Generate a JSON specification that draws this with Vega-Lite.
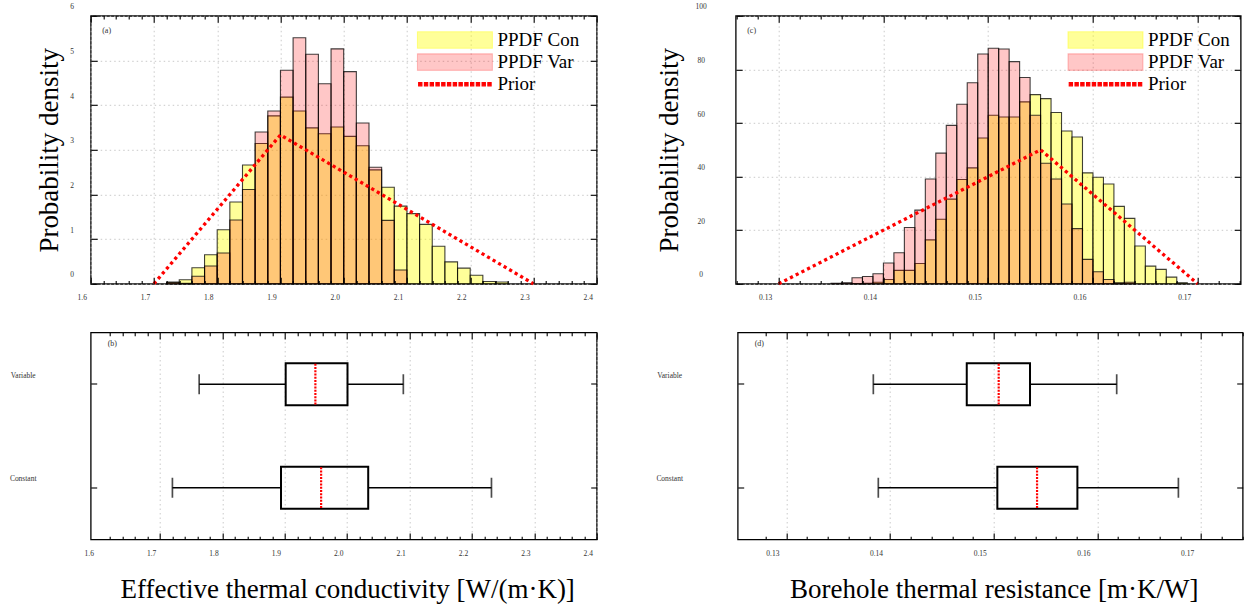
{
  "$schema": "https://vega.github.io/schema/vega-lite/v6.json",
  "background": "white",
  "padding": {"left": 8.7, "top": 1.8, "right": 5, "bottom": 5},
  "config": {
    "font": "Liberation Serif",
    "view": {"stroke": "black", "strokeWidth": 1.3},
    "axis": {
      "domain": false,
      "labelFont": "Liberation Serif",
      "labelFontSize": 7.5,
      "labelColor": "#333",
      "titleFont": "Liberation Serif",
      "titleFontSize": 27,
      "titleFontWeight": "normal",
      "titleColor": "black",
      "gridColor": "#c4c4c4",
      "gridDash": [1.5, 3],
      "gridWidth": 0.9,
      "tickColor": "black",
      "tickWidth": 1.1,
      "labelOverlap": false,
      "labelFlush": false
    },
    "title": {"font": "Liberation Serif", "fontSize": 8, "fontWeight": "normal", "anchor": "start", "frame": "group", "color": "#333", "offset": 0},
    "tick": {"thickness": 1.7}
  },
  "spacing": 24.7,
  "vconcat": [
    {
      "spacing": 56,
      "resolve": {"scale": {"color": "independent"}},
      "hconcat": [
        {
          "width": 506,
          "height": 268,
          "title": {"text": "(a)", "dx": 11.5, "dy": 36.5},
          "resolve": {"axis": {"x": "independent", "y": "independent"}},
          "layer": [
            {
              "data": {"values": [
                {"lo": 1.72, "hi": 1.74, "series": "PPDF Con", "density": 0.04},
                {"lo": 1.74, "hi": 1.76, "series": "PPDF Con", "density": 0.09},
                {"lo": 1.76, "hi": 1.78, "series": "PPDF Con", "density": 0.36},
                {"lo": 1.78, "hi": 1.8, "series": "PPDF Con", "density": 0.65},
                {"lo": 1.8, "hi": 1.82, "series": "PPDF Con", "density": 1.21},
                {"lo": 1.82, "hi": 1.84, "series": "PPDF Con", "density": 1.83},
                {"lo": 1.84, "hi": 1.86, "series": "PPDF Con", "density": 2.66},
                {"lo": 1.86, "hi": 1.88, "series": "PPDF Con", "density": 3.14},
                {"lo": 1.88, "hi": 1.9, "series": "PPDF Con", "density": 3.76},
                {"lo": 1.9, "hi": 1.92, "series": "PPDF Con", "density": 4.18},
                {"lo": 1.92, "hi": 1.94, "series": "PPDF Con", "density": 3.87},
                {"lo": 1.94, "hi": 1.96, "series": "PPDF Con", "density": 3.49},
                {"lo": 1.96, "hi": 1.98, "series": "PPDF Con", "density": 3.36},
                {"lo": 1.98, "hi": 2.0, "series": "PPDF Con", "density": 3.51},
                {"lo": 2.0, "hi": 2.02, "series": "PPDF Con", "density": 3.3},
                {"lo": 2.02, "hi": 2.04, "series": "PPDF Con", "density": 3.09},
                {"lo": 2.04, "hi": 2.06, "series": "PPDF Con", "density": 2.55},
                {"lo": 2.06, "hi": 2.08, "series": "PPDF Con", "density": 2.16},
                {"lo": 2.08, "hi": 2.1, "series": "PPDF Con", "density": 1.74},
                {"lo": 2.1, "hi": 2.12, "series": "PPDF Con", "density": 1.57},
                {"lo": 2.12, "hi": 2.14, "series": "PPDF Con", "density": 1.33},
                {"lo": 2.14, "hi": 2.16, "series": "PPDF Con", "density": 0.84},
                {"lo": 2.16, "hi": 2.18, "series": "PPDF Con", "density": 0.49},
                {"lo": 2.18, "hi": 2.2, "series": "PPDF Con", "density": 0.35},
                {"lo": 2.2, "hi": 2.22, "series": "PPDF Con", "density": 0.19},
                {"lo": 2.22, "hi": 2.24, "series": "PPDF Con", "density": 0.05},
                {"lo": 2.24, "hi": 2.26, "series": "PPDF Con", "density": 0.04},
                {"lo": 1.72, "hi": 1.74, "series": "PPDF Var", "density": 0.03},
                {"lo": 1.74, "hi": 1.76, "series": "PPDF Var", "density": 0.01},
                {"lo": 1.76, "hi": 1.78, "series": "PPDF Var", "density": 0.17},
                {"lo": 1.78, "hi": 1.8, "series": "PPDF Var", "density": 0.4},
                {"lo": 1.8, "hi": 1.82, "series": "PPDF Var", "density": 0.69},
                {"lo": 1.82, "hi": 1.84, "series": "PPDF Var", "density": 1.43},
                {"lo": 1.84, "hi": 1.86, "series": "PPDF Var", "density": 2.11},
                {"lo": 1.86, "hi": 1.88, "series": "PPDF Var", "density": 3.4},
                {"lo": 1.88, "hi": 1.9, "series": "PPDF Var", "density": 3.87},
                {"lo": 1.9, "hi": 1.92, "series": "PPDF Var", "density": 4.78},
                {"lo": 1.92, "hi": 1.94, "series": "PPDF Var", "density": 5.51},
                {"lo": 1.94, "hi": 1.96, "series": "PPDF Var", "density": 5.14},
                {"lo": 1.96, "hi": 1.98, "series": "PPDF Var", "density": 4.48},
                {"lo": 1.98, "hi": 2.0, "series": "PPDF Var", "density": 5.26},
                {"lo": 2.0, "hi": 2.02, "series": "PPDF Var", "density": 4.75},
                {"lo": 2.02, "hi": 2.04, "series": "PPDF Var", "density": 3.6},
                {"lo": 2.04, "hi": 2.06, "series": "PPDF Var", "density": 2.61},
                {"lo": 2.06, "hi": 2.08, "series": "PPDF Var", "density": 1.42},
                {"lo": 2.08, "hi": 2.1, "series": "PPDF Var", "density": 0.31}
              ]},
              "mark": {"type": "bar", "stroke": "black", "strokeWidth": 1.1, "strokeOpacity": 0.75},
              "encoding": {
                "x": {"field": "lo", "type": "quantitative", "scale": {"domain": [1.6, 2.4], "nice": false, "zero": false},
                  "axis": {"orient": "bottom", "title": null, "grid": false, "zindex": 1,
                    "values": [1.6,1.62,1.64,1.66,1.68,1.7,1.72,1.74,1.76,1.78,1.8,1.82,1.84,1.86,1.88,1.9,1.92,1.94,1.96,1.98,2,2.02,2.04,2.06,2.08,2.1,2.12,2.14,2.16,2.18,2.2,2.22,2.24,2.26,2.28,2.3,2.32,2.34,2.36,2.38,2.4],
                    "tickSize": {"condition": {"test": "abs(datum.value*10-round(datum.value*10))<0.001", "value": -6.5}, "value": -3.3},
                    "labelExpr": "abs(datum.value*10-round(datum.value*10))<0.001 ? format(datum.value,'.1f') : ''",
                    "labelPadding": 20.2, "labelOffset": -9, "labelBaseline": "middle", "labelAlign": "center"}},
                "x2": {"field": "hi"},
                "y": {"field": "density", "type": "quantitative", "stack": null, "scale": {"domain": [0, 6], "nice": false},
                  "axis": {"orient": "left", "title": "Probability density", "titleX": -27.3, "values": [0,1,2,3,4,5,6], "grid": false, "zindex": 1,
                    "tickSize": -6.5, "labelPadding": 25.5, "labelAlign": "center", "labelBaseline": "middle", "labelOffset": -9}},
                "y2": {"datum": 0},
                "color": {"field": "series", "type": "nominal",
                  "scale": {"domain": ["PPDF Con", "PPDF Var", "Prior"], "range": ["rgba(255,255,0,0.4)", "rgba(255,0,0,0.22)", "#ff0000"]},
                  "legend": {"orient": "none", "legendX": 325.7, "legendY": 15.2, "title": null, "padding": 0,
                    "symbolType": "M-1,-0.22L1,-0.22L1,0.22L-1,0.22Z", "symbolSize": 5625, "symbolStrokeWidth": 1.1,
                    "clipHeight": 18, "rowPadding": 3.1, "labelOffset": 4,
                    "labelFont": "Liberation Serif", "labelFontSize": 19, "labelColor": "black",
                    "encoding": {"symbols": {
                      "shape": {"condition": {"test": "datum.value === 'Prior'", "value": "M-0.9671,-0.044h0.088v0.088h-0.088Z M-0.8133,-0.044h0.088v0.088h-0.088Z M-0.6595,-0.044h0.088v0.088h-0.088Z M-0.5057,-0.044h0.088v0.088h-0.088Z M-0.3519,-0.044h0.088v0.088h-0.088Z M-0.1981,-0.044h0.088v0.088h-0.088Z M-0.0443,-0.044h0.088v0.088h-0.088Z M0.1095,-0.044h0.088v0.088h-0.088Z M0.2633,-0.044h0.088v0.088h-0.088Z M0.4171,-0.044h0.088v0.088h-0.088Z M0.5709,-0.044h0.088v0.088h-0.088Z M0.7247,-0.044h0.088v0.088h-0.088Z M0.8785,-0.044h0.088v0.088h-0.088Z"}, "value": "M-1,-0.22L1,-0.22L1,0.22L-1,0.22Z"},
                      "fill": {"condition": [{"test": "datum.value === 'PPDF Con'", "value": "rgba(255,255,0,0.4)"}, {"test": "datum.value === 'PPDF Var'", "value": "rgba(255,0,0,0.22)"}], "value": "#ff0000"},
                      "stroke": {"condition": {"test": "datum.value === 'Prior'", "value": "transparent"}, "value": "#333"},
                      "strokeOpacity": {"value": 1},
                      "opacity": {"value": 1}
                    }}}}
              }
            },
            {
              "data": {"values": [
                {"x": 1.7, "y": 0, "series": "Prior"},
                {"x": 1.9, "y": 3.333, "series": "Prior"},
                {"x": 2.3, "y": 0, "series": "Prior"}
              ]},
              "mark": {"type": "line", "strokeDash": [3.2, 3.2], "strokeWidth": 3.3, "strokeCap": "butt"},
              "encoding": {
                "x": {"field": "x", "type": "quantitative", "scale": {"domain": [1.6, 2.4], "nice": false, "zero": false},
                  "axis": {"orient": "top", "title": null, "labels": false, "grid": true, "zindex": 0,
                    "values": [1.6,1.62,1.64,1.66,1.68,1.7,1.72,1.74,1.76,1.78,1.8,1.82,1.84,1.86,1.88,1.9,1.92,1.94,1.96,1.98,2,2.02,2.04,2.06,2.08,2.1,2.12,2.14,2.16,2.18,2.2,2.22,2.24,2.26,2.28,2.3,2.32,2.34,2.36,2.38,2.4],
                    "gridOpacity": {"condition": {"test": "abs(datum.value*10-round(datum.value*10))<0.001", "value": 1}, "value": 0},
                    "tickSize": {"condition": {"test": "abs(datum.value*10-round(datum.value*10))<0.001", "value": -6.5}, "value": -3.3}}},
                "y": {"field": "y", "type": "quantitative", "scale": {"domain": [0, 6], "nice": false},
                  "axis": {"orient": "right", "title": null, "labels": false, "grid": true, "zindex": 0, "values": [0,1,2,3,4,5,6], "tickSize": -6.5}},
                "color": {"field": "series", "type": "nominal"}
              }
            }
          ]
        },
        {
          "width": 505,
          "height": 268,
          "title": {"text": "(c)", "dx": 11.5, "dy": 36.5},
          "resolve": {"axis": {"x": "independent", "y": "independent"}},
          "layer": [
            {
              "data": {"values": [
                {"lo": 0.137, "hi": 0.138, "series": "PPDF Con", "density": 0.1},
                {"lo": 0.138, "hi": 0.139, "series": "PPDF Con", "density": 0.2},
                {"lo": 0.139, "hi": 0.14, "series": "PPDF Con", "density": 0.6},
                {"lo": 0.14, "hi": 0.141, "series": "PPDF Con", "density": 1.6},
                {"lo": 0.141, "hi": 0.142, "series": "PPDF Con", "density": 5.0},
                {"lo": 0.142, "hi": 0.143, "series": "PPDF Con", "density": 5.0},
                {"lo": 0.143, "hi": 0.144, "series": "PPDF Con", "density": 7.6},
                {"lo": 0.144, "hi": 0.145, "series": "PPDF Con", "density": 16.4},
                {"lo": 0.145, "hi": 0.146, "series": "PPDF Con", "density": 24.1},
                {"lo": 0.146, "hi": 0.147, "series": "PPDF Con", "density": 31.6},
                {"lo": 0.147, "hi": 0.148, "series": "PPDF Con", "density": 38.9},
                {"lo": 0.148, "hi": 0.149, "series": "PPDF Con", "density": 43.25},
                {"lo": 0.149, "hi": 0.15, "series": "PPDF Con", "density": 54.4},
                {"lo": 0.15, "hi": 0.151, "series": "PPDF Con", "density": 62.9},
                {"lo": 0.151, "hi": 0.152, "series": "PPDF Con", "density": 62.25},
                {"lo": 0.152, "hi": 0.153, "series": "PPDF Con", "density": 62.25},
                {"lo": 0.153, "hi": 0.154, "series": "PPDF Con", "density": 67.9},
                {"lo": 0.154, "hi": 0.155, "series": "PPDF Con", "density": 70.6},
                {"lo": 0.155, "hi": 0.156, "series": "PPDF Con", "density": 69.1},
                {"lo": 0.156, "hi": 0.157, "series": "PPDF Con", "density": 63.9},
                {"lo": 0.157, "hi": 0.158, "series": "PPDF Con", "density": 57.0},
                {"lo": 0.158, "hi": 0.159, "series": "PPDF Con", "density": 54.75},
                {"lo": 0.159, "hi": 0.16, "series": "PPDF Con", "density": 41.4},
                {"lo": 0.16, "hi": 0.161, "series": "PPDF Con", "density": 39.75},
                {"lo": 0.161, "hi": 0.162, "series": "PPDF Con", "density": 37.25},
                {"lo": 0.162, "hi": 0.163, "series": "PPDF Con", "density": 28.9},
                {"lo": 0.163, "hi": 0.164, "series": "PPDF Con", "density": 24.4},
                {"lo": 0.164, "hi": 0.165, "series": "PPDF Con", "density": 14.1},
                {"lo": 0.165, "hi": 0.166, "series": "PPDF Con", "density": 6.6},
                {"lo": 0.166, "hi": 0.167, "series": "PPDF Con", "density": 5.4},
                {"lo": 0.167, "hi": 0.168, "series": "PPDF Con", "density": 2.5},
                {"lo": 0.168, "hi": 0.169, "series": "PPDF Con", "density": 0.4},
                {"lo": 0.135, "hi": 0.136, "series": "PPDF Var", "density": 0.2},
                {"lo": 0.136, "hi": 0.137, "series": "PPDF Var", "density": 0.4},
                {"lo": 0.137, "hi": 0.138, "series": "PPDF Var", "density": 2.25},
                {"lo": 0.138, "hi": 0.139, "series": "PPDF Var", "density": 2.75},
                {"lo": 0.139, "hi": 0.14, "series": "PPDF Var", "density": 3.75},
                {"lo": 0.14, "hi": 0.141, "series": "PPDF Var", "density": 7.75},
                {"lo": 0.141, "hi": 0.142, "series": "PPDF Var", "density": 11.6},
                {"lo": 0.142, "hi": 0.143, "series": "PPDF Var", "density": 21.0},
                {"lo": 0.143, "hi": 0.144, "series": "PPDF Var", "density": 27.5},
                {"lo": 0.144, "hi": 0.145, "series": "PPDF Var", "density": 39.1},
                {"lo": 0.145, "hi": 0.146, "series": "PPDF Var", "density": 48.75},
                {"lo": 0.146, "hi": 0.147, "series": "PPDF Var", "density": 59.1},
                {"lo": 0.147, "hi": 0.148, "series": "PPDF Var", "density": 67.0},
                {"lo": 0.148, "hi": 0.149, "series": "PPDF Var", "density": 75.0},
                {"lo": 0.149, "hi": 0.15, "series": "PPDF Var", "density": 85.75},
                {"lo": 0.15, "hi": 0.151, "series": "PPDF Var", "density": 87.9},
                {"lo": 0.151, "hi": 0.152, "series": "PPDF Var", "density": 87.6},
                {"lo": 0.152, "hi": 0.153, "series": "PPDF Var", "density": 82.9},
                {"lo": 0.153, "hi": 0.154, "series": "PPDF Var", "density": 77.0},
                {"lo": 0.154, "hi": 0.155, "series": "PPDF Var", "density": 62.9},
                {"lo": 0.155, "hi": 0.156, "series": "PPDF Var", "density": 45.0},
                {"lo": 0.156, "hi": 0.157, "series": "PPDF Var", "density": 39.1},
                {"lo": 0.157, "hi": 0.158, "series": "PPDF Var", "density": 29.75},
                {"lo": 0.158, "hi": 0.159, "series": "PPDF Var", "density": 20.6},
                {"lo": 0.159, "hi": 0.16, "series": "PPDF Var", "density": 9.1},
                {"lo": 0.16, "hi": 0.161, "series": "PPDF Var", "density": 4.5},
                {"lo": 0.161, "hi": 0.162, "series": "PPDF Var", "density": 1.6},
                {"lo": 0.162, "hi": 0.163, "series": "PPDF Var", "density": 0.4},
                {"lo": 0.163, "hi": 0.164, "series": "PPDF Var", "density": 0.6}
              ]},
              "mark": {"type": "bar", "stroke": "black", "strokeWidth": 1.1, "strokeOpacity": 0.75},
              "encoding": {
                "x": {"field": "lo", "type": "quantitative", "scale": {"domain": [0.1259, 0.1741], "nice": false, "zero": false},
                  "axis": {"orient": "bottom", "title": null, "grid": false, "zindex": 1,
                    "values": [0.126,0.128,0.13,0.132,0.134,0.136,0.138,0.14,0.142,0.144,0.146,0.148,0.15,0.152,0.154,0.156,0.158,0.16,0.162,0.164,0.166,0.168,0.17,0.172,0.174],
                    "tickSize": {"condition": {"test": "abs(datum.value*100-round(datum.value*100))<0.001", "value": -6.5}, "value": -3.3},
                    "labelExpr": "abs(datum.value*100-round(datum.value*100))<0.001 ? format(datum.value,'.2f') : ''",
                    "labelPadding": 20.2, "labelOffset": -13.5, "labelBaseline": "middle", "labelAlign": "center"}},
                "x2": {"field": "hi"},
                "y": {"field": "density", "type": "quantitative", "stack": null, "scale": {"domain": [0, 100], "nice": false},
                  "axis": {"orient": "left", "title": "Probability density", "titleX": -52.3, "values": [0,20,40,60,80,100], "grid": false, "zindex": 1,
                    "tickSize": -6.5, "labelPadding": 41.5, "labelAlign": "center", "labelBaseline": "middle", "labelOffset": -9}},
                "y2": {"datum": 0},
                "color": {"field": "series", "type": "nominal",
                  "scale": {"domain": ["PPDF Con", "PPDF Var", "Prior"], "range": ["rgba(255,255,0,0.4)", "rgba(255,0,0,0.22)", "#ff0000"]},
                  "legend": {"orient": "none", "legendX": 331.3, "legendY": 15.2, "title": null, "padding": 0,
                    "symbolType": "M-1,-0.22L1,-0.22L1,0.22L-1,0.22Z", "symbolSize": 5625, "symbolStrokeWidth": 1.1,
                    "clipHeight": 18, "rowPadding": 3.1, "labelOffset": 4,
                    "labelFont": "Liberation Serif", "labelFontSize": 19, "labelColor": "black",
                    "encoding": {"symbols": {
                      "shape": {"condition": {"test": "datum.value === 'Prior'", "value": "M-0.9671,-0.044h0.088v0.088h-0.088Z M-0.8133,-0.044h0.088v0.088h-0.088Z M-0.6595,-0.044h0.088v0.088h-0.088Z M-0.5057,-0.044h0.088v0.088h-0.088Z M-0.3519,-0.044h0.088v0.088h-0.088Z M-0.1981,-0.044h0.088v0.088h-0.088Z M-0.0443,-0.044h0.088v0.088h-0.088Z M0.1095,-0.044h0.088v0.088h-0.088Z M0.2633,-0.044h0.088v0.088h-0.088Z M0.4171,-0.044h0.088v0.088h-0.088Z M0.5709,-0.044h0.088v0.088h-0.088Z M0.7247,-0.044h0.088v0.088h-0.088Z M0.8785,-0.044h0.088v0.088h-0.088Z"}, "value": "M-1,-0.22L1,-0.22L1,0.22L-1,0.22Z"},
                      "fill": {"condition": [{"test": "datum.value === 'PPDF Con'", "value": "rgba(255,255,0,0.4)"}, {"test": "datum.value === 'PPDF Var'", "value": "rgba(255,0,0,0.22)"}], "value": "#ff0000"},
                      "stroke": {"condition": {"test": "datum.value === 'Prior'", "value": "transparent"}, "value": "#333"},
                      "strokeOpacity": {"value": 1},
                      "opacity": {"value": 1}
                    }}}}
              }
            },
            {
              "data": {"values": [
                {"x": 0.13, "y": 0, "series": "Prior"},
                {"x": 0.155, "y": 50, "series": "Prior"},
                {"x": 0.17, "y": 0, "series": "Prior"}
              ]},
              "mark": {"type": "line", "strokeDash": [3.2, 3.2], "strokeWidth": 3.3, "strokeCap": "butt"},
              "encoding": {
                "x": {"field": "x", "type": "quantitative", "scale": {"domain": [0.1259, 0.1741], "nice": false, "zero": false},
                  "axis": {"orient": "top", "title": null, "labels": false, "grid": true, "zindex": 0,
                    "values": [0.126,0.128,0.13,0.132,0.134,0.136,0.138,0.14,0.142,0.144,0.146,0.148,0.15,0.152,0.154,0.156,0.158,0.16,0.162,0.164,0.166,0.168,0.17,0.172,0.174],
                    "gridOpacity": {"condition": {"test": "abs(datum.value*100-round(datum.value*100))<0.001", "value": 1}, "value": 0},
                    "tickSize": {"condition": {"test": "abs(datum.value*100-round(datum.value*100))<0.001", "value": -6.5}, "value": -3.3}}},
                "y": {"field": "y", "type": "quantitative", "scale": {"domain": [0, 100], "nice": false},
                  "axis": {"orient": "right", "title": null, "labels": false, "grid": true, "zindex": 0, "values": [0,20,40,60,80,100], "tickSize": -6.5}},
                "color": {"field": "series", "type": "nominal"}
              }
            }
          ]
        }
      ]
    },
    {
      "spacing": 56,
      "hconcat": [
        {
          "width": 506,
          "height": 207,
          "title": {"text": "(b)", "dx": 17, "dy": 20.1},
          "data": {"values": [
            {"group": "Variable", "lower": 1.7627, "q1": 1.9014, "median": 1.949, "q3": 2.0005, "upper": 2.09},
            {"group": "Constant", "lower": 1.7198, "q1": 1.8939, "median": 1.9582, "q3": 2.0337, "upper": 2.2313}
          ]},
          "resolve": {"axis": {"x": "independent", "y": "independent"}},
          "layer": [
            {
              "mark": {"type": "rule", "color": "black", "strokeWidth": 1.7},
              "encoding": {
                "x": {"field": "lower", "type": "quantitative", "scale": {"domain": [1.5888, 2.4], "nice": false, "zero": false},
                  "axis": {"orient": "bottom", "title": "Effective thermal conductivity [W/(m·K)]", "titleY": 36.7, "titleX": 256.5, "grid": false, "zindex": 1,
                    "values": [1.6,1.62,1.64,1.66,1.68,1.7,1.72,1.74,1.76,1.78,1.8,1.82,1.84,1.86,1.88,1.9,1.92,1.94,1.96,1.98,2,2.02,2.04,2.06,2.08,2.1,2.12,2.14,2.16,2.18,2.2,2.22,2.24,2.26,2.28,2.3,2.32,2.34,2.36,2.38,2.4],
                    "tickSize": {"condition": {"test": "abs(datum.value*10-round(datum.value*10))<0.001", "value": -6.5}, "value": -3.3},
                    "tickOpacity": {"condition": {"test": "datum.value < 1.601", "value": 0}, "value": 1},
                    "labelExpr": "abs(datum.value*10-round(datum.value*10))<0.001 ? format(datum.value,'.1f') : ''",
                    "labelPadding": 20.2, "labelOffset": -9, "labelBaseline": "middle", "labelAlign": "center"}},
                "x2": {"field": "q1"},
                "y": {"field": "group", "type": "nominal", "scale": {"domain": ["Variable", "Constant"], "paddingInner": 0, "paddingOuter": 0},
                  "axis": {"orient": "left", "title": null, "grid": false, "zindex": 1, "tickSize": -6, "labelPadding": 74, "labelAlign": "center", "labelBaseline": "middle", "labelOffset": -8.6}}
              }
            },
            {
              "mark": {"type": "rule", "color": "black", "strokeWidth": 1.7},
              "encoding": {
                "x": {"field": "q3", "type": "quantitative", "scale": {"domain": [1.5888, 2.4], "nice": false, "zero": false},
                  "axis": {"orient": "top", "title": null, "labels": false, "grid": true, "zindex": 0,
                    "values": [1.6,1.62,1.64,1.66,1.68,1.7,1.72,1.74,1.76,1.78,1.8,1.82,1.84,1.86,1.88,1.9,1.92,1.94,1.96,1.98,2,2.02,2.04,2.06,2.08,2.1,2.12,2.14,2.16,2.18,2.2,2.22,2.24,2.26,2.28,2.3,2.32,2.34,2.36,2.38,2.4],
                    "gridOpacity": {"condition": {"test": "abs(datum.value*10-round(datum.value*10))<0.001 && datum.value > 1.601", "value": 1}, "value": 0},
                    "tickOpacity": {"condition": {"test": "datum.value < 1.601", "value": 0}, "value": 1},
                    "tickSize": {"condition": {"test": "abs(datum.value*10-round(datum.value*10))<0.001", "value": -6.5}, "value": -3.3}}},
                "x2": {"field": "upper"},
                "y": {"field": "group", "type": "nominal", "axis": {"orient": "right", "title": null, "labels": false, "grid": false, "zindex": 0, "tickSize": -6}}
              }
            },
            {
              "mark": {"type": "bar", "fill": "transparent", "stroke": "black", "strokeWidth": 2, "size": 42},
              "encoding": {
                "x": {"field": "q1", "type": "quantitative", "scale": {"domain": [1.5888, 2.4], "nice": false, "zero": false}, "axis": null},
                "x2": {"field": "q3"},
                "y": {"field": "group", "type": "nominal", "axis": null}
              }
            },
            {
              "mark": {"type": "tick", "color": "black", "thickness": 1.7, "size": 20},
              "encoding": {
                "x": {"field": "lower", "type": "quantitative", "scale": {"domain": [1.5888, 2.4], "nice": false, "zero": false}, "axis": null},
                "y": {"field": "group", "type": "nominal", "axis": null}
              }
            },
            {
              "mark": {"type": "tick", "color": "black", "thickness": 1.7, "size": 20},
              "encoding": {
                "x": {"field": "upper", "type": "quantitative", "scale": {"domain": [1.5888, 2.4], "nice": false, "zero": false}, "axis": null},
                "y": {"field": "group", "type": "nominal", "axis": null}
              }
            },
            {
              "mark": {"type": "point", "filled": true, "color": "#ff0000", "opacity": 1, "strokeWidth": 0, "size": 1764,
                "shape": "M-0.052,-0.9706h0.104v0.095h-0.104Z M-0.052,-0.8168h0.104v0.095h-0.104Z M-0.052,-0.663h0.104v0.095h-0.104Z M-0.052,-0.5092h0.104v0.095h-0.104Z M-0.052,-0.3554h0.104v0.095h-0.104Z M-0.052,-0.2016h0.104v0.095h-0.104Z M-0.052,-0.0478h0.104v0.095h-0.104Z M-0.052,0.106h0.104v0.095h-0.104Z M-0.052,0.2598h0.104v0.095h-0.104Z M-0.052,0.4136h0.104v0.095h-0.104Z M-0.052,0.5674h0.104v0.095h-0.104Z M-0.052,0.7212h0.104v0.095h-0.104Z M-0.052,0.875h0.104v0.095h-0.104Z"},
              "encoding": {
                "x": {"field": "median", "type": "quantitative", "scale": {"domain": [1.5888, 2.4], "nice": false, "zero": false}, "axis": null},
                "y": {"field": "group", "type": "nominal", "axis": null}
              }
            }
          ]
        },
        {
          "width": 505,
          "height": 207,
          "title": {"text": "(d)", "dx": 17, "dy": 20.1},
          "data": {"values": [
            {"group": "Variable", "lower": 0.13839, "q1": 0.1474, "median": 0.15048, "q3": 0.1535, "upper": 0.16186},
            {"group": "Constant", "lower": 0.13887, "q1": 0.15035, "median": 0.15418, "q3": 0.15807, "upper": 0.16781}
          ]},
          "resolve": {"axis": {"x": "independent", "y": "independent"}},
          "layer": [
            {
              "mark": {"type": "rule", "color": "black", "strokeWidth": 1.7},
              "encoding": {
                "x": {"field": "lower", "type": "quantitative", "scale": {"domain": [0.12531, 0.17401], "nice": false, "zero": false},
                  "axis": {"orient": "bottom", "title": "Borehole thermal resistance [m·K/W]", "titleY": 36.7, "titleX": 256, "grid": false, "zindex": 1,
                    "values": [0.126,0.128,0.13,0.132,0.134,0.136,0.138,0.14,0.142,0.144,0.146,0.148,0.15,0.152,0.154,0.156,0.158,0.16,0.162,0.164,0.166,0.168,0.17,0.172,0.174],
                    "tickSize": {"condition": {"test": "abs(datum.value*100-round(datum.value*100))<0.001", "value": -6.5}, "value": -3.3},
                    "tickOpacity": {"condition": {"test": "datum.value < 0.1261", "value": 0}, "value": 1},
                    "labelExpr": "abs(datum.value*100-round(datum.value*100))<0.001 ? format(datum.value,'.2f') : ''",
                    "labelPadding": 20.2, "labelOffset": -14, "labelBaseline": "middle", "labelAlign": "center"}},
                "x2": {"field": "q1"},
                "y": {"field": "group", "type": "nominal", "scale": {"domain": ["Variable", "Constant"], "paddingInner": 0, "paddingOuter": 0},
                  "axis": {"orient": "left", "title": null, "grid": false, "zindex": 1, "tickSize": -6, "labelPadding": 74.5, "labelAlign": "center", "labelBaseline": "middle", "labelOffset": -8.6}}
              }
            },
            {
              "mark": {"type": "rule", "color": "black", "strokeWidth": 1.7},
              "encoding": {
                "x": {"field": "q3", "type": "quantitative", "scale": {"domain": [0.12531, 0.17401], "nice": false, "zero": false},
                  "axis": {"orient": "top", "title": null, "labels": false, "grid": true, "zindex": 0,
                    "values": [0.126,0.128,0.13,0.132,0.134,0.136,0.138,0.14,0.142,0.144,0.146,0.148,0.15,0.152,0.154,0.156,0.158,0.16,0.162,0.164,0.166,0.168,0.17,0.172,0.174],
                    "gridOpacity": {"condition": {"test": "abs(datum.value*100-round(datum.value*100))<0.001", "value": 1}, "value": 0},
                    "tickOpacity": {"condition": {"test": "datum.value < 0.1261", "value": 0}, "value": 1},
                    "tickSize": {"condition": {"test": "abs(datum.value*100-round(datum.value*100))<0.001", "value": -6.5}, "value": -3.3}}},
                "x2": {"field": "upper"},
                "y": {"field": "group", "type": "nominal", "axis": {"orient": "right", "title": null, "labels": false, "grid": false, "zindex": 0, "tickSize": -6}}
              }
            },
            {
              "mark": {"type": "bar", "fill": "transparent", "stroke": "black", "strokeWidth": 2, "size": 42},
              "encoding": {
                "x": {"field": "q1", "type": "quantitative", "scale": {"domain": [0.12531, 0.17401], "nice": false, "zero": false}, "axis": null},
                "x2": {"field": "q3"},
                "y": {"field": "group", "type": "nominal", "axis": null}
              }
            },
            {
              "mark": {"type": "tick", "color": "black", "thickness": 1.7, "size": 20},
              "encoding": {
                "x": {"field": "lower", "type": "quantitative", "scale": {"domain": [0.12531, 0.17401], "nice": false, "zero": false}, "axis": null},
                "y": {"field": "group", "type": "nominal", "axis": null}
              }
            },
            {
              "mark": {"type": "tick", "color": "black", "thickness": 1.7, "size": 20},
              "encoding": {
                "x": {"field": "upper", "type": "quantitative", "scale": {"domain": [0.12531, 0.17401], "nice": false, "zero": false}, "axis": null},
                "y": {"field": "group", "type": "nominal", "axis": null}
              }
            },
            {
              "mark": {"type": "point", "filled": true, "color": "#ff0000", "opacity": 1, "strokeWidth": 0, "size": 1764,
                "shape": "M-0.052,-0.9706h0.104v0.095h-0.104Z M-0.052,-0.8168h0.104v0.095h-0.104Z M-0.052,-0.663h0.104v0.095h-0.104Z M-0.052,-0.5092h0.104v0.095h-0.104Z M-0.052,-0.3554h0.104v0.095h-0.104Z M-0.052,-0.2016h0.104v0.095h-0.104Z M-0.052,-0.0478h0.104v0.095h-0.104Z M-0.052,0.106h0.104v0.095h-0.104Z M-0.052,0.2598h0.104v0.095h-0.104Z M-0.052,0.4136h0.104v0.095h-0.104Z M-0.052,0.5674h0.104v0.095h-0.104Z M-0.052,0.7212h0.104v0.095h-0.104Z M-0.052,0.875h0.104v0.095h-0.104Z"},
              "encoding": {
                "x": {"field": "median", "type": "quantitative", "scale": {"domain": [0.12531, 0.17401], "nice": false, "zero": false}, "axis": null},
                "y": {"field": "group", "type": "nominal", "axis": null}
              }
            }
          ]
        }
      ]
    }
  ]
}
